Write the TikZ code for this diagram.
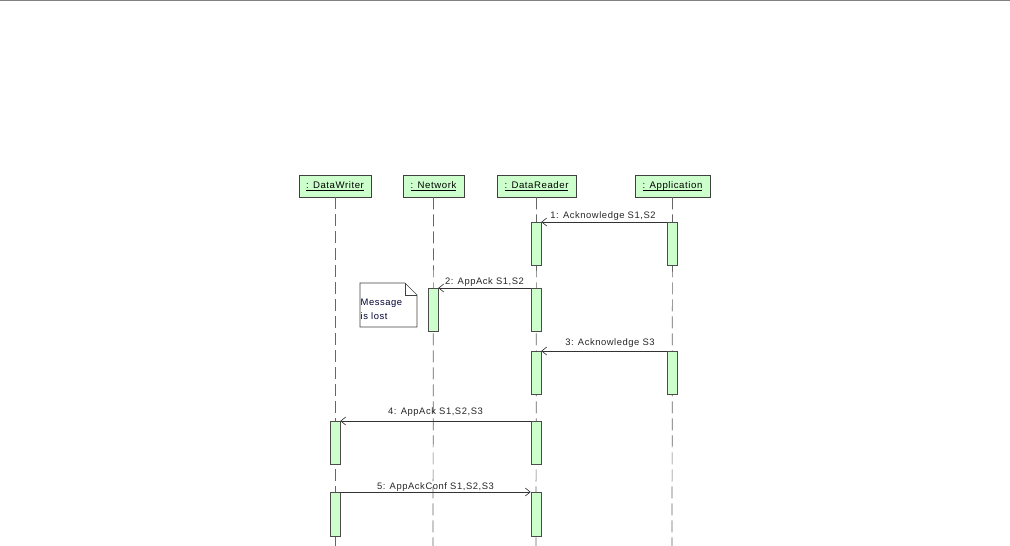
\documentclass[tikz,border=0pt]{standalone}
\usepackage{fontspec}
\setmainfont{Liberation Sans}
\newfontfamily\lblfont[LetterSpace=6]{Liberation Sans}
\newcommand{\hdrtext}[1]{\underline{\smash{#1}}\vphantom{Ap}}
\begin{document}
\begin{tikzpicture}[x=1pt,y=-1pt,
  hdr/.style={draw=black!75,fill=green!20!white,line width=0.7pt,minimum height=22pt,inner sep=1pt,font=\lblfont\fontsize{9.6}{11}\selectfont},
  act/.style={draw=black!70,fill=green!20!white,line width=0.6pt,minimum width=10pt,inner sep=0pt},
  life/.style={draw=black!60,line width=0.7pt,dash pattern=on 12pt off 5pt},
  msg/.style={draw=black!80,line width=0.6pt,-{Straight Barb[length=5pt,width=8pt]}},
  lbl/.style={font=\lblfont\fontsize{9.4}{10.5}\selectfont,text=black!85,inner sep=1pt}]
\usetikzlibrary{arrows.meta}
\useasboundingbox (0,0) rectangle (1010,546);
\draw[black!50,line width=1.2pt] (0,0.6) -- (1010,0.6);
% headers
\node[hdr,minimum width=72pt] (dw) at (335,186) {\hdrtext{: DataWriter}};
\node[hdr,minimum width=61pt] (nw) at (433.5,186) {\hdrtext{: Network}};
\node[hdr,minimum width=79pt] (dr) at (536.5,186) {\hdrtext{: DataReader}};
\node[hdr,minimum width=75pt] (ap) at (672.5,186) {\hdrtext{: Application}};
% lifelines
\coordinate (dwE) at (335,546);
\coordinate (nwE) at (433,546);
\coordinate (drE) at (536,546);
\coordinate (apE) at (672,546);
\path[life] (dw.south) -- (dwE);
\path[life] (nw.south) -- (nwE);
\path[life] (dr.south) -- (drE);
\path[life] (ap.south) -- (apE);
% activations
\node[act,minimum height=43pt,anchor=north] (dr1) at (536,222) {};
\node[act,minimum height=43pt,anchor=north] (ap1) at (672,222) {};
\node[act,minimum height=43pt,anchor=north] (nw2) at (433,288) {};
\node[act,minimum height=43pt,anchor=north] (dr2) at (536,288) {};
\node[act,minimum height=43pt,anchor=north] (dr3) at (536,351) {};
\node[act,minimum height=43pt,anchor=north] (ap3) at (672,351) {};
\node[act,minimum height=43pt,anchor=north] (dw4) at (335,421) {};
\node[act,minimum height=43pt,anchor=north] (dr4) at (536,421) {};
\node[act,minimum height=44pt,anchor=north] (dw5) at (335,492) {};
\node[act,minimum height=44pt,anchor=north] (dr5) at (536,492) {};
% messages
\draw[msg] (ap1.north west) -- (dr1.north east) node[lbl,midway,above=0pt,xshift=-1pt] {1: Acknowledge S1,S2};
\draw[msg] (dr2.north west) -- (nw2.north east) node[lbl,midway,above=0pt] {2: AppAck S1,S2};
\draw[msg] (ap3.north west) -- (dr3.north east) node[lbl,midway,above=2pt,xshift=6pt] {3: Acknowledge S3};
\draw[msg] (dr4.north west) -- (dw4.north east) node[lbl,midway,above=3pt] {4: AppAck S1,S2,S3};
\draw[msg] (dw5.north east) -- (dr5.north west) node[lbl,midway,above=-1pt] {5: AppAckConf S1,S2,S3};
% note
\draw[draw=black!75,fill=white,line width=0.6pt] (360,283) -- (405,283) -- (417,295) -- (417,327) -- (360,327) -- cycle;
\draw[draw=black!75,line width=0.6pt] (405,283) -- (405,295) -- (417,295);
\node[lbl,anchor=north west,align=left,text=black!80!blue,inner sep=0.5pt,font=\lblfont\fontsize{9.4}{14}\selectfont] (note) at (360,298) {Message\\is lost};
\end{tikzpicture}
\end{document}
